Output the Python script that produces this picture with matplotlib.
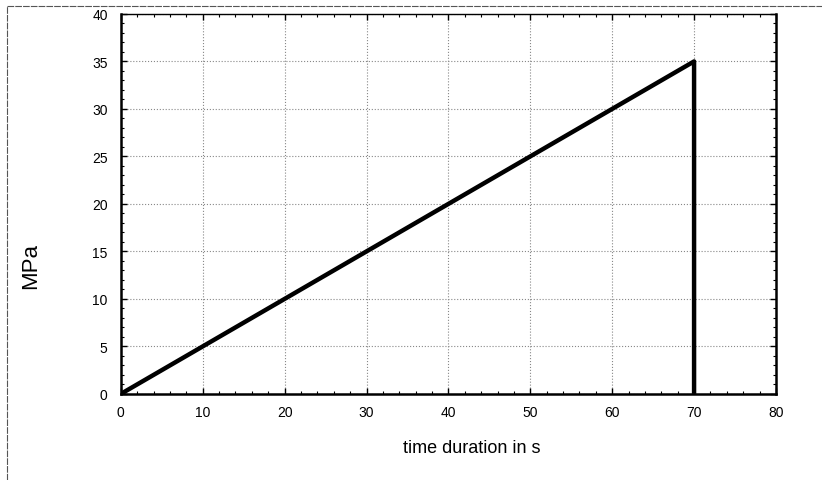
import matplotlib.pyplot as plt
from matplotlib.ticker import MultipleLocator
from matplotlib.lines import Line2D

# stress ramp then release
time_s = [0, 70, 70]
stress_mpa = [0, 35, 0]

x_ticks = [0, 10, 20, 30, 40, 50, 60, 70, 80]
y_ticks = [0, 5, 10, 15, 20, 25, 30, 35, 40]

plt.rcParams['font.family'] = ['Liberation Sans', 'DejaVu Sans']

fig = plt.figure(figsize=(8.22, 4.81), dpi=100)
ax = fig.add_axes([0.147, 0.179, 0.797, 0.790])

ax.plot(time_s, stress_mpa, color='black', linewidth=3.2, solid_capstyle='butt', zorder=3)

ax.set_xlim(0, 80)
ax.set_ylim(0, 40)
ax.set_xticks(x_ticks)
ax.set_yticks(y_ticks)
ax.xaxis.set_minor_locator(MultipleLocator(2))
ax.yaxis.set_minor_locator(MultipleLocator(1))
ax.tick_params(which='both', direction='in', top=True, right=True, labelsize=10)
ax.tick_params(axis='x', pad=8)
ax.tick_params(axis='y', pad=9.5)
ax.tick_params(which='major', length=4, width=1)
ax.tick_params(which='minor', length=2.5, width=0.8)
ax.grid(True, which='major', linestyle=':', color='#888888', linewidth=0.8)
for s in ax.spines.values():
    s.set_linewidth(1.8)
ax.spines['top'].set_linewidth(1.0)

# axis titles placed like the original
fig.text(31 / 822, 1 - 266 / 481, 'MPa', fontsize=16, rotation=90, ha='center', va='center')
fig.text(472 / 822, 1 - 449 / 481, 'time duration in s', fontsize=13, ha='center', va='center')

# thin outer frame lines
fig.add_artist(Line2D([0.009, 0.009], [0.0, 0.985], transform=fig.transFigure, color='#555555', linewidth=0.8, linestyle=(0, (6, 1))))
fig.add_artist(Line2D([0.009, 1.0], [0.985, 0.985], transform=fig.transFigure, color='#555555', linewidth=0.8, linestyle=(0, (6, 1))))

fig.savefig('out.png', dpi=100)
